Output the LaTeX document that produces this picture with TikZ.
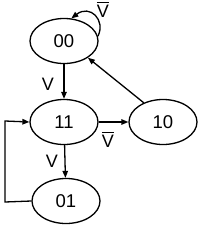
\documentclass[tikz,border=0pt]{standalone}
\usepackage{fontspec}
\setmainfont{Liberation Sans}
\usetikzlibrary{arrows.meta,shapes.geometric}
\newcommand\barV{\leavevmode\vbox{\hrule height 1.2pt\kern 2.4pt\hbox{V}}}
\begin{document}
\begin{tikzpicture}[x=1pt,y=-1pt,
  st/.style={draw,line width=1.3pt,ellipse,minimum width=68pt,minimum height=45pt,inner sep=0pt,font=\fontsize{18.5}{18.5}\selectfont},
  lab/.style={font=\fontsize{18}{18}\selectfont,inner sep=0pt},
  conn/.style={line width=1.3pt,-{Triangle[length=7pt,width=5.5pt]}}]
\useasboundingbox (0,0) rectangle (203,228);
\node[st] (s00) at (64,41) {00};
\node[st] (s11) at (64,122) {11};
\node[st] (s10) at (163,122) {10};
\node[st] (s01) at (66,201) {01};
\coordinate (c1) at (5,202);
\coordinate (c2) at (5,121);
\draw[conn] (s00) -- (s11);
\draw[conn] (s11.east) -- (s10.west);
\draw[conn] (s11) -- (s01);
\draw[conn] (s01.west) -- (c1) -- (c2) -- (s11.west);
\draw[conn] (s10.135) -- (s00.-35);
\draw[conn] (s00.8) .. controls (106,20) and (90,4) .. (s00.72);
\node[lab] (l1) at (48,84) {V};
\node[lab] (l2) at (108,140) {\barV};
\node[lab] (l3) at (52,161) {V};
\node[lab] (l4) at (103,10) {\barV};
\end{tikzpicture}
\end{document}
